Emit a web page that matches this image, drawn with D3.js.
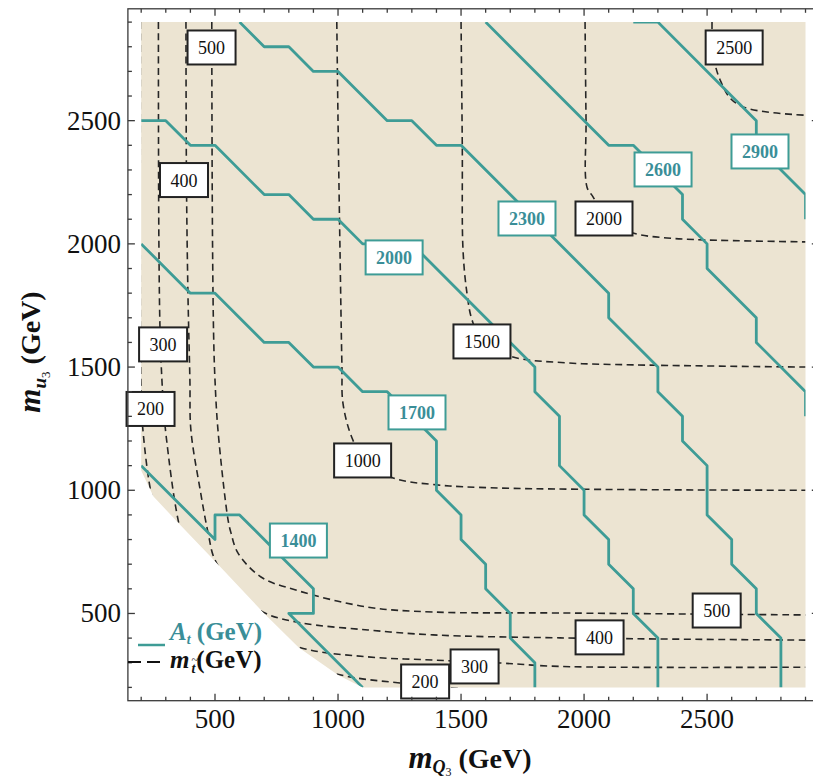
<!DOCTYPE html>
<html>
<head>
<meta charset="utf-8">
<script src="https://cdn.jsdelivr.net/npm/d3@7/dist/d3.min.js"></script>
<style>
  body { margin: 0; background: #fff; }
  svg { display: block; }
</style>
</head>
<body>
<svg id="chart" width="813" height="784"></svg>
<script>
// ---- axis ticks (GeV) ----
const majorTicks = [500, 1000, 1500, 2000, 2500];
const minorTicks = [200, 300, 400, 600, 700, 800, 900, 1100, 1200, 1300, 1400, 1600, 1700, 1800, 1900,
                    2100, 2200, 2300, 2400, 2600, 2700, 2800, 2900];

// ---- scanned parameter window and the excluded corner (m_Q3, m_u3 in GeV) ----
const scanMin = 200, scanMax = 2900;
const exclusionEdge = [[200, 1080], [250, 975], [350, 868], [500, 712], [700, 500], [840, 362], [1000, 250], [1100, 200]];

// ---- A_t contours (GeV), traced on the 100 GeV scan grid ----
const atLevels = [1400, 1700, 2000, 2300, 2600, 2900];
const at1400 = [[200,1100],[500,800],[500,900],[600,900],[800,700],[900,600],[900,500],[800,500],[1100,200]];
const at1700 = [[200,2000],[400,1800],[500,1800],[700,1600],[800,1600],[900,1500],[1000,1500],[1100,1400],[1200,1400],
                [1400,1200],[1400,1000],[1500,900],[1500,800],[1600,700],[1600,600],[1700,500],[1700,400],[1800,300],[1800,200]];
const at2000 = [[200,2500],[300,2500],[400,2400],[500,2400],[700,2200],[800,2200],[900,2100],[1000,2100],[1100,2000],
                [1300,2000],[1700,1600],[1800,1500],[1800,1400],[1900,1300],[1900,1100],[2000,1000],[2000,900],
                [2100,800],[2100,700],[2200,600],[2200,500],[2300,400],[2300,200]];
const at2300 = [[600,2900],[700,2800],[800,2800],[900,2700],[1000,2700],[1200,2500],[1300,2500],[1400,2400],[1500,2400],
                [2100,1800],[2100,1700],[2300,1500],[2300,1400],[2400,1300],[2400,1200],[2500,1100],[2500,900],
                [2600,800],[2600,700],[2700,600],[2700,500],[2800,400],[2800,200]];
const at2600 = [[1600,2900],[2100,2400],[2200,2400],[2400,2200],[2400,2100],[2500,2000],[2500,1900],[2700,1700],
                [2700,1600],[2900,1400],[2900,1300]];
const at2900 = [[2200,2900],[2300,2900],[2700,2500],[2700,2400],[2900,2200],[2900,2100]];
const atLines = [at1400, at1700, at2000, at2300, at2600, at2900];
const atLabelX = [839, 1321, 1228, 1768, 2321, 2715];
const atLabelY = [796, 1316, 1945, 2103, 2302, 2375];

// ---- lighter stop mass contours (GeV) ----
const mstLevels = [200, 300, 400, 500, 1000, 1500, 2000, 2500];
const mst200 = [[197,2900],[198,1500],[203,1330],[207,1245],[244,972],[300,800],[500,500],[700,350],[1012,250],[1252,218],[1500,195]];
const mst300 = [[270,2900],[272,2000],[278,1600],[290,1350],[301,1224],[350,880],[400,700],[500,520],[837,364],
                [1122,324],[1386,311],[1659,299],[1902,285],[2900,282]];
const mst400 = [[382,2900],[384,2260],[390,1800],[398,1447],[402,1245],[440,1000],[472,827],[500,717],[600,580],
                [703,502],[850,462],[1122,433],[1386,413],[1902,401],[2900,392]];
const mst500 = [[487,2900],[487,2800],[490,2000],[495,1600],[500,1447],[512,1245],[553,880],[565,827],[593,746],
                [687,648],[825,596],[1120,526],[1386,506],[1900,502],[2900,494]];
const mst1000 = [[995,2900],[1000,2500],[1008,1975],[1016,1500],[1020,1354],[1057,1212],[1110,1120],[1224,1050],
                 [1402,1022],[1659,1009],[2900,1000]];
const mst1500 = [[1500,2900],[1505,2400],[1508,1975],[1524,1800],[1545,1690],[1590,1600],[1711,1541],[1931,1517],
                 [2200,1509],[2900,1500]];
const mst2000 = [[2004,2900],[2008,2500],[2012,2230],[2037,2190],[2090,2100],[2199,2044],[2337,2024],[2492,2016],[2900,2008]];
const mst2500 = [[2520,2900],[2522,2800],[2533,2726],[2553,2665],[2593,2592],[2646,2556],[2744,2535],[2900,2522]];
const mstLines = [mst200, mst300, mst400, mst500, mst1000, mst1500, mst2000, mst2500];
const mstLabelText = [500, 400, 300, 200, 1000, 1500, 2000, 2500, 500, 400, 300, 200];
const mstLabelX = [486, 374, 289, 238, 1100, 1585, 2081, 2610, 2539, 2063, 1555, 1354];
const mstLabelY = [2797, 2259, 1592, 1330, 1121, 1604, 2103, 2797, 512, 403, 285, 224];

// ---- styling ----
const teal = "#3e9c96";
const tealText = "#3a8e98";
const beige = "#ece4d2";
const serif = "'Liberation Serif', 'Times New Roman', serif";

const svg = d3.select("#chart");
const x = d3.scaleLinear().domain([146, 2954]).range([127.9, 818.8]);
const y = d3.scaleLinear().domain([146, 2954]).range([700.7, 8.8]);

// shaded (allowed) region: the scan square minus the excluded lower-left corner
const region = [[scanMin, scanMax], [scanMax, scanMax], [scanMax, scanMin]]
  .concat(exclusionEdge.slice().reverse());
const regionPath = d3.line().x(d => x(d[0])).y(d => y(d[1]))(region) + "Z";

svg.append("defs").append("clipPath").attr("id", "allowed")
  .append("path").attr("d", regionPath);

svg.append("path").attr("d", regionPath).attr("fill", beige);

const plot = svg.append("g").attr("clip-path", "url(#allowed)");

// stop-mass contours: smooth dashed curves
const smooth = d3.line().x(d => x(d[0])).y(d => y(d[1])).curve(d3.curveCatmullRom.alpha(0.5));
plot.selectAll("path.mst").data(mstLines).join("path")
  .attr("class", "mst")
  .attr("d", smooth)
  .attr("fill", "none")
  .attr("stroke", "#262626")
  .attr("stroke-width", 1.6)
  .attr("stroke-dasharray", "7,4.5");

// A_t contours: grid-stepped solid lines
const stepped = d3.line().x(d => x(d[0])).y(d => y(d[1]));
plot.selectAll("path.at").data(atLines).join("path")
  .attr("class", "at")
  .attr("d", stepped)
  .attr("fill", "none")
  .attr("stroke", teal)
  .attr("stroke-width", 2.8)
  .attr("stroke-linejoin", "round");

// contour labels (boxed)
function drawLabel(g, text, cx, cy, opts) {
  const t = g.append("text")
    .attr("x", cx).attr("y", cy + 6.5)
    .attr("text-anchor", "middle")
    .attr("font-family", serif)
    .attr("font-size", 18)
    .attr("font-weight", opts.bold ? "bold" : "normal")
    .attr("fill", opts.textColor)
    .text(text);
  const w = t.node().getComputedTextLength() + 21;
  const h = 34;
  g.insert("rect", () => t.node())
    .attr("x", cx - w / 2).attr("y", cy - h / 2)
    .attr("width", w).attr("height", h)
    .attr("fill", "#fff")
    .attr("stroke", opts.border)
    .attr("stroke-width", 2);
}

const labels = svg.append("g");
mstLabelText.forEach((v, i) => {
  drawLabel(labels.append("g"), v, x(mstLabelX[i]), y(mstLabelY[i]),
    { bold: false, textColor: "#111", border: "#222" });
});
atLevels.forEach((v, i) => {
  drawLabel(labels.append("g"), v, x(atLabelX[i]), y(atLabelY[i]),
    { bold: true, textColor: tealText, border: teal });
});

// frame with inward ticks on every side
const x0 = x(146), x1 = x(2954), y0 = y(146), y1 = y(2954);
const frame = svg.append("g").attr("stroke", "#3a3a3a").attr("stroke-width", 1.3);
frame.append("rect").attr("x", x0).attr("y", y1).attr("width", x1 - x0).attr("height", y0 - y1).attr("fill", "none");

function ticks(values, len) {
  values.forEach(v => {
    frame.append("line").attr("x1", x(v)).attr("x2", x(v)).attr("y1", y0).attr("y2", y0 - len);
    frame.append("line").attr("x1", x(v)).attr("x2", x(v)).attr("y1", y1).attr("y2", y1 + len);
    frame.append("line").attr("y1", y(v)).attr("y2", y(v)).attr("x1", x0).attr("x2", x0 + len);
    frame.append("line").attr("y1", y(v)).attr("y2", y(v)).attr("x1", x1).attr("x2", x1 - len);
  });
}
ticks(majorTicks, 7);
ticks(minorTicks, 4);

// tick labels
const tl = svg.append("g").attr("font-family", serif).attr("font-size", 27).attr("fill", "#111");
tl.selectAll("text.xt").data(majorTicks).join("text")
  .attr("class", "xt")
  .attr("x", d => x(d)).attr("y", 728)
  .attr("text-anchor", "middle")
  .text(d => d);
tl.selectAll("text.yt").data(majorTicks).join("text")
  .attr("class", "yt")
  .attr("x", 121).attr("y", d => y(d) + 9)
  .attr("text-anchor", "end")
  .text(d => d);

// axis titles
const xt = svg.append("text")
  .attr("x", 470).attr("y", 768)
  .attr("text-anchor", "middle")
  .attr("font-family", serif).attr("font-weight", "bold").attr("font-size", 28).attr("fill", "#111");
xt.append("tspan").attr("font-style", "italic").attr("font-size", 31).text("m");
xt.append("tspan").attr("font-style", "italic").attr("font-size", 18).attr("dy", 5).text("Q");
xt.append("tspan").attr("font-size", 12).attr("font-weight", "normal").attr("dy", 3).text("3");
xt.append("tspan").attr("dy", -8).text(" (GeV)");

const yt = svg.append("text")
  .attr("transform", "translate(40,352) rotate(-90)")
  .attr("text-anchor", "middle")
  .attr("font-family", serif).attr("font-weight", "bold").attr("font-size", 28).attr("fill", "#111");
yt.append("tspan").attr("font-style", "italic").attr("font-size", 31).text("m");
yt.append("tspan").attr("font-style", "italic").attr("font-size", 19).attr("dy", 6).text("u");
yt.append("tspan").attr("font-size", 13).attr("font-weight", "normal").attr("dy", 4).text("3");
yt.append("tspan").attr("dy", -10).text(" (GeV)");

// legend
const lg = svg.append("g").attr("font-family", serif).attr("font-weight", "bold");
lg.append("line").attr("x1", 138).attr("x2", 165).attr("y1", 645).attr("y2", 645)
  .attr("stroke", teal).attr("stroke-width", 2.5);
const la = lg.append("text").attr("x", 170).attr("y", 640).attr("font-size", 25).attr("fill", tealText);
la.append("tspan").attr("font-style", "italic").text("A");
la.append("tspan").attr("font-style", "italic").attr("font-size", 14).attr("dy", 4).text("t");
la.append("tspan").attr("dy", -4).text(" (GeV)");

lg.append("line").attr("x1", 128).attr("x2", 165).attr("y1", 662).attr("y2", 662)
  .attr("stroke", "#111").attr("stroke-width", 2).attr("stroke-dasharray", "13,6");
const lm = lg.append("text").attr("x", 170).attr("y", 668).attr("font-size", 25).attr("fill", "#111");
lm.append("tspan").attr("font-style", "italic").text("m");
lm.append("tspan").attr("font-style", "italic").attr("font-size", 14).attr("dx", 2).attr("dy", 5).text("t");
lm.append("tspan").attr("dx", 1).attr("dy", -5).text("(GeV)");
// tilde over the subscript t, kept inside the same text element
const tPos = lm.node().getStartPositionOfChar(1);
const tEnd = lm.node().getEndPositionOfChar(1);
lm.append("tspan")
  .attr("x", (tPos.x + tEnd.x) / 2 - 2).attr("y", tPos.y - 9)
  .attr("font-size", 12).attr("font-weight", "normal")
  .text("~");
</script>
</body>
</html>
